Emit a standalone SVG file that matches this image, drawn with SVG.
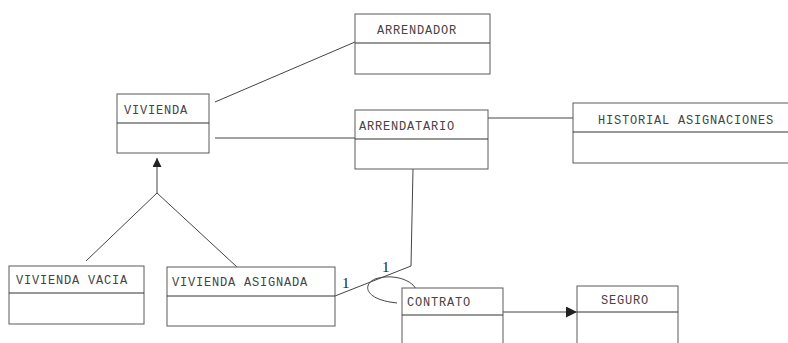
<svg xmlns="http://www.w3.org/2000/svg" width="788" height="343" viewBox="0 0 788 343">
  <defs>
    <style>
      .box { fill: #ffffff; stroke: #5a5a5a; stroke-width: 1; }
      .div { stroke: #333333; stroke-width: 1; }
      .lbl { font-family: "Liberation Mono", "Courier New", monospace; font-size: 12px; letter-spacing: 0.8px; fill: #444444; }
      .mult { font-family: "Liberation Serif", "Times New Roman", serif; font-size: 15px; fill: #222222; }
      .edge { fill: none; stroke: #444444; stroke-width: 1; }
    </style>
    <marker id="solid" viewBox="0 0 10 10" refX="10" refY="5" markerWidth="15" markerHeight="11" markerUnits="userSpaceOnUse" orient="auto">
      <path d="M0,0 L10,5 L0,10 Z" fill="#222222"/>
    </marker>
    <marker id="tip" viewBox="0 0 10 10" refX="10" refY="5" markerWidth="11" markerHeight="9" markerUnits="userSpaceOnUse" orient="auto">
      <path d="M0,0 L10,5 L0,10 Z" fill="#222222"/>
    </marker>
  </defs>
  <rect width="788" height="343" fill="#ffffff"/>

  <g id="connectors">
    <line class="edge" x1="215" y1="102" x2="355" y2="42"/>
    <line class="edge" x1="215" y1="138" x2="355" y2="138"/>
    <line class="edge" x1="488" y1="118" x2="573" y2="118"/>
    <polyline class="edge" points="413,169 411,266 335,296"/>
    <path class="edge" d="M416,289 C410,278 390,274 375,279 C362,285 366,298 390,302 L397,303"/>
    <polyline class="edge" points="86,261 157,193 237,267"/>
    <line class="edge" x1="157" y1="193" x2="157" y2="158" marker-end="url(#tip)"/>
    <line class="edge" x1="503" y1="312" x2="577" y2="312" marker-end="url(#solid)"/>
    <text class="mult" x="342" y="288">1</text>
    <text class="mult" x="382" y="272">1</text>
  </g>

  <g id="vivienda">
    <rect class="box" x="117" y="94" width="92" height="59"/>
    <line class="div" x1="117" y1="123" x2="209" y2="123"/>
    <text class="lbl" x="124" y="114">VIVIENDA</text>
  </g>

  <g id="arrendador">
    <rect class="box" x="355" y="14" width="135" height="60"/>
    <line class="div" x1="355" y1="43" x2="490" y2="43"/>
    <text class="lbl" x="377" y="34">ARRENDADOR</text>
  </g>

  <g id="arrendatario">
    <rect class="box" x="355" y="110" width="133" height="59"/>
    <line class="div" x1="355" y1="139" x2="488" y2="139"/>
    <text class="lbl" x="359" y="130">ARRENDATARIO</text>
  </g>

  <g id="historial">
    <rect class="box" x="573" y="103" width="220" height="60"/>
    <line class="div" x1="573" y1="132" x2="793" y2="132"/>
    <text class="lbl" x="598" y="124">HISTORIAL ASIGNACIONES</text>
  </g>

  <g id="vivienda-vacia">
    <rect class="box" x="9" y="266" width="135" height="58"/>
    <line class="div" x1="9" y1="293" x2="144" y2="293"/>
    <text class="lbl" x="16" y="284">VIVIENDA VACIA</text>
  </g>

  <g id="vivienda-asignada">
    <rect class="box" x="167" y="267" width="168" height="59"/>
    <line class="div" x1="167" y1="296" x2="335" y2="296"/>
    <text class="lbl" x="172" y="286">VIVIENDA ASIGNADA</text>
  </g>

  <g id="contrato">
    <rect class="box" x="402" y="288" width="101" height="70"/>
    <line class="div" x1="402" y1="315" x2="503" y2="315"/>
    <text class="lbl" x="407" y="306">CONTRATO</text>
  </g>

  <g id="seguro">
    <rect class="box" x="577" y="286" width="101" height="70"/>
    <line class="div" x1="577" y1="312" x2="678" y2="312"/>
    <text class="lbl" x="601" y="304">SEGURO</text>
  </g>
</svg>
